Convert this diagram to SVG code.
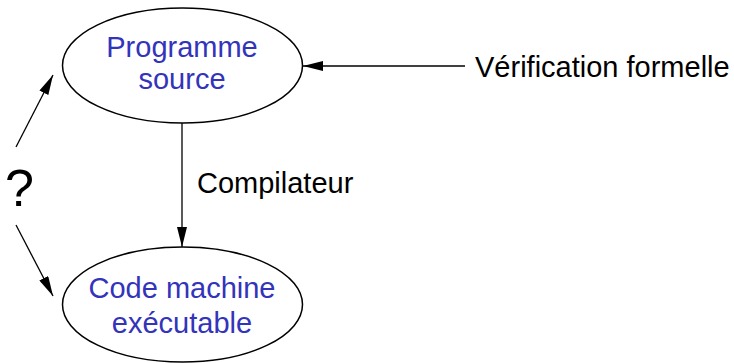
<svg xmlns="http://www.w3.org/2000/svg" width="734" height="363" viewBox="0 0 734 363">
<style>
.node{fill:#fff;stroke:#000;stroke-width:1.5}
.lbl{font-family:"Liberation Sans",Arial,sans-serif;font-size:29px;fill:#3333bb;text-anchor:middle}
.txt{font-family:"Liberation Sans",Arial,sans-serif;font-size:29px;fill:#000}
.edge{stroke:#000;stroke-width:1.3;fill:none;marker-end:url(#ah)}
</style>
<defs>
<marker id="ah" viewBox="0 0 20 10" refX="20" refY="5" markerWidth="20" markerHeight="10" markerUnits="userSpaceOnUse" orient="auto">
<path d="M0,0 L20,5 L0,10 z" fill="#000"/>
</marker>
</defs>
<g id="connectors">
<line class="edge" x1="182" y1="123" x2="182" y2="247"/>
<line class="edge" x1="465" y1="66" x2="303" y2="66"/>
<line class="edge" x1="16" y1="147" x2="53" y2="75"/>
<line class="edge" x1="16" y1="225" x2="53" y2="296"/>
</g>
<g id="source">
<ellipse class="node" cx="182.5" cy="65.5" rx="120" ry="57.5"/>
<text class="lbl" x="182" y="57">Programme</text>
<text class="lbl" x="182" y="89">source</text>
</g>
<g id="machine">
<ellipse class="node" cx="182.5" cy="304.5" rx="120" ry="57.5"/>
<text class="lbl" x="182" y="298">Code machine</text>
<text class="lbl" x="182" y="333">exécutable</text>
</g>
<g id="labels">
<text class="txt" x="475" y="77">Vérification formelle</text>
<text class="txt" x="197" y="193">Compilateur</text>
<text class="txt" x="5" y="206" style="font-size:52px">?</text>
</g>
</svg>
